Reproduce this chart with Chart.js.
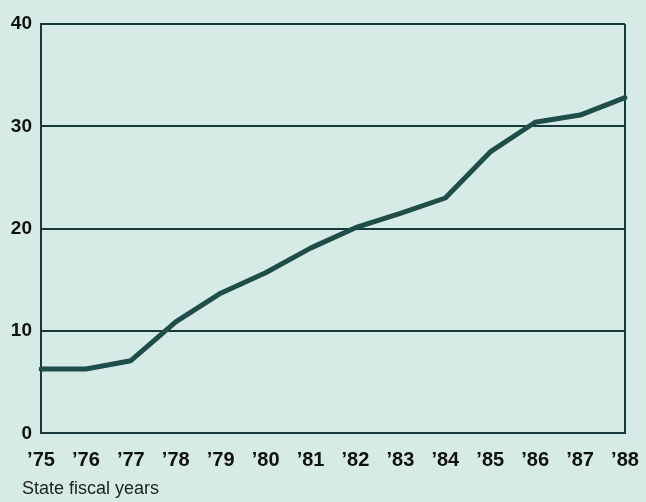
<!DOCTYPE html>
<html>
<head>
<meta charset="utf-8">
<script src="https://cdn.jsdelivr.net/npm/chart.js@4/dist/chart.umd.min.js"></script>
<style>
    html, body { margin: 0; padding: 0; background: #d6ebe6; }
    #wrap { width: 646px; height: 502px; }
</style>
</head>
<body>
<div id="wrap"><canvas id="lineChart" width="646" height="502"></canvas></div>
<script>
/* ---- DATA ---- */
const years = ['’75', '’76', '’77', '’78', '’79', '’80', '’81', '’82', '’83', '’84', '’85', '’86', '’87', '’88'];
const values = [6.3, 6.3, 7.1, 10.9, 13.7, 15.7, 18.1, 20.1, 21.5, 23.0, 27.5, 30.4, 31.1, 32.8];
const yTicks = [0, 10, 20, 30, 40];
const xTitle = 'State fiscal years';

const ink = '#163b3a';
const lineColor = '#1f4d4a';

// the caption starts left of the y labels' box, so nudge it after layout
const titleNudge = {
    id: 'titleNudge',
    afterLayout(chart) {
        if (chart.titleBlock) chart.titleBlock.left = 22;
    }
};

/* ---- CHART ---- */
const ctx = document.getElementById('lineChart');

new Chart(ctx, {
    type: 'line',
    data: {
        labels: years,
        datasets: [{
            data: values,
            borderColor: lineColor,
            borderWidth: 5,
            borderJoinStyle: 'round',
            borderCapStyle: 'round',
            pointRadius: 0,
            tension: 0,
            fill: false
        }]
    },
    options: {
        responsive: false,
        animation: false,
        layout: {
            padding: { top: 24, right: 21, bottom: 0, left: 6 }
        },
        plugins: {
            legend: { display: false },
            tooltip: { enabled: false },
            title: {
                display: true,
                position: 'bottom',
                align: 'start',
                text: xTitle,
                color: '#222',
                font: { family: 'Liberation Sans', size: 18, weight: 'normal' },
                padding: { top: 0, bottom: 2 }
            }
        },
        scales: {
            x: {
                offset: false,
                grid: {
                    drawTicks: true,
                    tickLength: 14,
                    tickColor: 'transparent',
                    lineWidth: 2,
                    color: c => (c.index === 0 || c.index === years.length - 1) ? ink : 'transparent'
                },
                border: { display: true, color: ink, width: 2 },
                ticks: {
                    color: '#111',
                    padding: 1,
                    maxRotation: 0,
                    autoSkip: false,
                    font: { family: 'Liberation Sans', size: 20, weight: 'bold' }
                },
                afterFit: scale => { scale.height = 45; }
            },
            y: {
                min: 0,
                max: 40,
                afterBuildTicks: scale => {
                    scale.ticks = yTicks.map(v => ({ value: v }));
                },
                grid: {
                    drawTicks: false,
                    lineWidth: 2,
                    color: ink
                },
                border: { display: true, color: ink, width: 2 },
                ticks: {
                    color: '#111',
                    padding: 9,
                    font: { family: 'Liberation Sans', size: 19, weight: 'bold' }
                },
                afterFit: scale => { scale.width = 35; }
            }
        }
    },
    plugins: [titleNudge]
});
</script>
</body>
</html>
